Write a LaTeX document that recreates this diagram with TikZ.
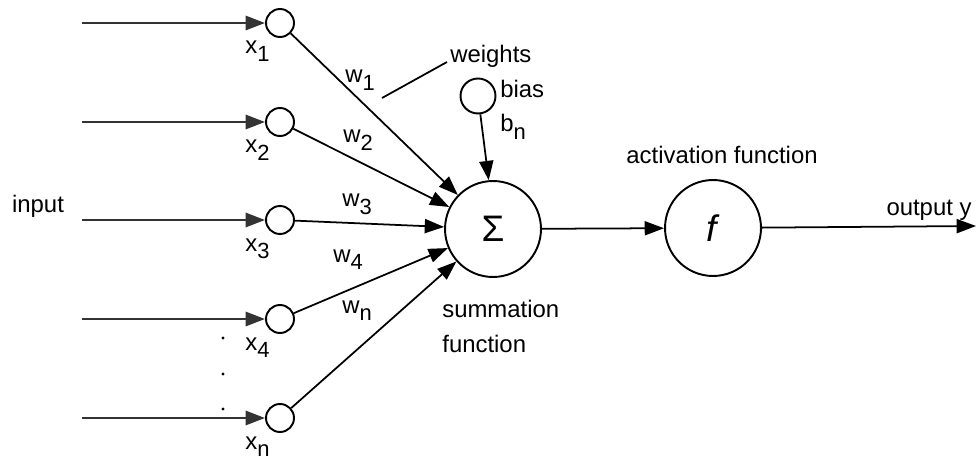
\documentclass[tikz,border=0pt]{standalone}
\usepackage{fontspec}
\setmainfont{Liberation Sans}
\usetikzlibrary{arrows.meta, positioning}
\newcommand{\lowidx}[1]{\raisebox{-4.5pt}{\fontsize{12.5}{12.5}\selectfont #1}}

\begin{document}
\begin{tikzpicture}[x=0.02cm, y=-0.02cm, font=\fontsize{13.6}{20}\selectfont,
    neuron/.style={draw, circle, line width=1.1pt, minimum size=1.92cm, inner sep=0pt},
    inp/.style={draw, circle, line width=1.1pt, minimum size=0.56cm, inner sep=0pt},
    arr/.style={-{Triangle[length=11pt, width=8pt]}, line width=1pt},
    lbl/.style={inner sep=0pt, anchor=base west}]
    \useasboundingbox (0,0) rectangle (976,459);
    % inputs
    \foreach \i/\y/\s in {1/23/1, 2/122/2, 3/220/3, 4/319/4, 5/418/n}{
        \node[inp] (c\i) at (280,\y) {};
        \coordinate (s\i) at (82,\y);
        \draw[arr, line width=1.5pt, black!80] (s\i) -- (c\i);
        \node[lbl] (x\i) at (245,\y+31) {x\lowidx{\s}};
    }
    \foreach \y in {338,374,409}
        \fill (223,\y) circle (1.6);
    \node[inner sep=0pt, anchor=base] (input) at (38,213) {input};
    % summation and activation
    \node[neuron, font=\fontsize{21}{21}\selectfont] (sum) at (493,229) {Σ};
    \node[neuron, font=\fontsize{21}{21}\selectfont] (act) at (713,228) {\textit{f}};
    \foreach \i in {1,...,5}
        \draw[arr] (c\i) -- (sum);
    \draw[arr] (sum) -- (act);
    \coordinate (out) at (976,226);
    \draw[arr] (act) -- (out);
    \node[inner sep=0pt, anchor=base] (outlbl) at (929,215) {output y};
    \node[inner sep=0pt, anchor=base] (actlbl) at (722,164) {activation function};
    \node[lbl] (sumlbl) at (442,317) {summation};
    \node[lbl] (funlbl) at (442,352) {function};
    % bias
    \node[draw, circle, line width=1.1pt, minimum size=0.7cm, inner sep=0pt] (bias) at (478,96) {};
    \draw[arr] (bias) -- (sum.95);
    \node[lbl] (biaslbl) at (500,98) {bias};
    \node[lbl] (bn) at (500,132) {b\lowidx{n}};
    % weights
    \coordinate (wa) at (382,98);
    \coordinate (wb) at (447,62);
    \draw[line width=1pt] (wa) -- (wb);
    \node[lbl] (wlbl) at (450,63) {weights};
    \node[lbl] (w1) at (345,83) {w\lowidx{1}};
    \node[lbl] (w2) at (343,143) {w\lowidx{2}};
    \node[lbl] (w3) at (342,207) {w\lowidx{3}};
    \node[lbl] (w4) at (333,262) {w\lowidx{4}};
    \node[lbl] (wn) at (342,313) {w\lowidx{n}};
\end{tikzpicture}
\end{document}
